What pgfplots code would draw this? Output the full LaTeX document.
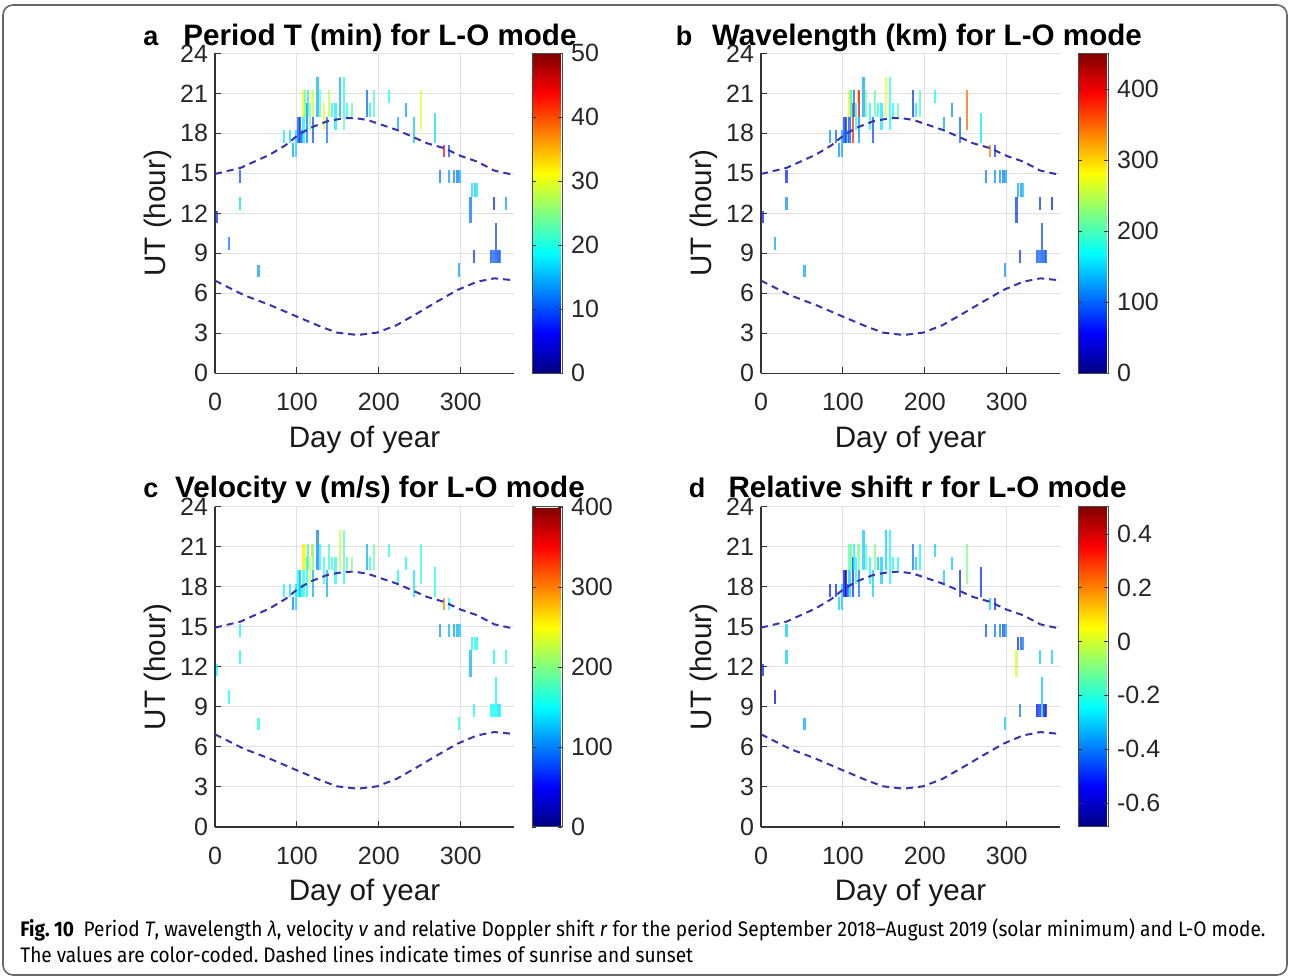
\documentclass[border=0pt]{standalone}
\usepackage{graphicx}
\usepackage{pgfplots}
\pgfplotsset{compat=1.18}
\usepackage{pgfplotstable}
\usepackage{fontspec}
\setmainfont{Liberation Sans}
\newfontfamily\capfont{Fira Sans}
\definecolor{sunblue}{RGB}{55,50,175}
\newsavebox\capone
\newsavebox\captwo
\newdimen\capw
\frenchspacing

% day, start hour, length (h), then value in panels a, b, c, d
\pgfplotstableread{
x y dy a b c d
2 11.3 0.9 8 70 150 -0.50
31 14.25 1 10 70 150 -0.30
31 12.25 1 17 120 150 -0.30
17.5 9.25 1 12 130 150 -0.55
53 7.25 0.9 14 130 160 -0.35
84 17.25 1 18 120 150 -0.50
92 17.25 1 17 100 140 -0.50
95 16.25 1 14 120 100 -0.30
99 16.25 2 17 130 140 -0.30
102 17.25 2 10 80 150 -0.55
104 17.25 2 9 80 120 -0.60
106 17.25 1 10 150 150 -0.50
108 17.25 2 18 90 160 -0.30
108 19.25 2 30 290 260 -0.15
110 19.25 2 24 170 250 -0.10
112 17.25 3 12 380 150 -0.50
114 19.25 2 18 100 160 -0.25
116 18.25 2 25 170 240 -0.25
118 20.25 1 31 300 270 -0.10
120 17.25 2 10 120 120 -0.40
120 19.25 2 29 400 200 -0.10
125 19.25 3 15 130 100 -0.30
128 19.25 2 23 220 160 -0.15
133 18.25 2 30 170 170 -0.25
137 17.25 2 12 90 120 -0.30
139 19.25 2 28 210 170 -0.10
143 19.25 1 20 180 170 -0.30
147 18.25 2 18 160 160 -0.30
153 19.25 3 15 270 230 -0.30
157 18.25 1 23 170 160 -0.25
157 19.25 3 20 180 180 -0.25
161 19.25 1 20 170 180 -0.25
167 19.25 1 23 210 200 -0.25
186 19.25 2 11 80 120 -0.40
189 19.25 1 18 160 160 -0.30
194 19.25 2 22 200 190 -0.25
212 20.25 1 19 170 160 -0.30
223 18.25 1 15 130 150 -0.30
233 19.25 1 14 120 150 -0.30
243 17.25 2 16 100 140 -0.50
251 18.25 3 30 350 170 -0.10
269 17.25 2.25 17 160 160 -0.50
280 16.25 0.9 44 340 300 -0.30
286 16.25 0.9 10 80 150 -0.50
275 14.25 1 12 110 110 -0.45
286 14.25 1 14 120 120 -0.40
292 14.25 1 13 120 110 -0.40
296 14.25 1 12 110 120 -0.45
299 14.25 1 15 130 130 -0.35
314 13.25 1 17 130 150 -0.50
317 13.25 1 16 120 160 -0.45
320 13.25 1 18 140 150 -0.40
312 11.25 2 12 80 120 0.00
341 12.25 1 8 80 150 -0.30
355 12.25 1 14 70 160 -0.30
343 8.25 3 10 90 150 -0.30
337 8.25 1 10 90 150 -0.55
340 8.25 1 11 100 150 -0.50
346 8.25 1 9 90 140 -0.60
348 8.25 1 12 100 150 -0.50
316 8.25 1 9 80 150 -0.40
298 7.25 1 14 120 160 -0.30
}\segs

\pgfplotstableread{
x y
0 14.95
31 15.4
67 16.4
86 17.1
100 17.8
116 18.4
137 18.9
157 19.13
170 19.15
186 19.0
198 18.75
222 18.25
239 17.8
259 17.25
280 16.88
300 16.3
320 15.88
341 15.2
361 14.93
365 14.92
}\sunset

\pgfplotstableread{
x y
0 6.95
35 5.87
67 5.12
100 4.25
129 3.5
149 3.05
174 2.87
198 3.05
222 3.62
247 4.5
271 5.37
296 6.25
320 6.87
341 7.12
361 7.0
365 6.98
}\sunrise

\pgfplotsset{
  panel/.style={
    scale only axis, width=149.5pt, height=160pt,
    xmin=0, xmax=365, ymin=0, ymax=24,
    xtick={0,100,200,300}, ytick={0,3,...,24},
    xmajorgrids, ymajorgrids, grid style={black!12, line width=0.5pt},
    axis x line*=bottom, axis y line*=left,
    axis line style={-, black!80, line width=0.6pt},
    tick align=inside, major tick length=3pt,
    tick style={black!80, line width=0.5pt},
    /pgf/number format/assume math mode=true,
    tick label style={font=\fontsize{12.5}{14}\selectfont, black!85},
    xticklabel style={yshift=-6.5pt},
    xlabel={Day of year}, ylabel={UT (hour)},
    label style={font=\fontsize{14.8}{17}\selectfont, black!90},
    xlabel style={at={(axis description cs:0.5,0)}, anchor=base, yshift=-37pt},
    ylabel style={at={([xshift=-25pt]axis description cs:0,0.5)}, anchor=base},
    colormap/jet, colorbar,
    colorbar style={width=15pt, at={(parent axis.north east)},
      anchor=north west, xshift=0.5pt,
      /pgf/number format/assume math mode=true,
      yticklabel style={font=\fontsize{12.5}{14}\selectfont, black!85, xshift=1pt},
      major tick length=2pt, tick style={black!80},
      axis line style={black!70, line width=0.5pt}},
  },
  seg/.style={quiver={u=0, v=\thisrow{dy}, colored}, line width=1.1pt,
    opacity=0.72, point meta=explicit},
  sun/.style={color=sunblue, line width=1pt, dash pattern=on 3.5pt off 2.5pt},
}

\begin{document}%
\sbox\capone{\capfont\fontsize{10.5}{12}\selectfont\textbf{Fig. 10}\hspace{0.5em}Period \textit{T}, wavelength \textit{λ}, velocity \textit{v} and relative Doppler shift \textit{r} for the period September 2018–August 2019 (solar minimum) and L-O mode.}%
\sbox\captwo{\capfont\fontsize{10.5}{12}\selectfont The values are color-coded. Dashed lines indicate times of sunrise and sunset}%
\capw=\wd\capone%
\pgfmathsetmacro\capsc{622.5/\capw}%
\begin{tikzpicture}
\useasboundingbox (0,0) rectangle (645pt,489pt);
\draw[black!60, line width=0.8pt, rounded corners=5pt] (1.5pt,1.5pt) rectangle (643.5pt,486.5pt);

\node[anchor=base west, inner sep=0pt] at (10pt,20.5pt) {\scalebox{\capsc}[1]{\usebox\capone}};
\node[anchor=base west, inner sep=0pt] at (10pt,7.5pt) {\scalebox{\capsc}[1]{\usebox\captwo}};

% a
\begin{axis}[panel, at={(107.5pt,302.35pt)}, anchor=south west,
  point meta min=0, point meta max=50, colorbar style={ytick={0,10,...,50}}]
\addplot[seg] table[x=x, y=y, meta=a] {\segs};
\addplot[sun] table {\sunset};
\addplot[sun] table {\sunrise};
\end{axis}
% b
\begin{axis}[panel, at={(380.5pt,302.35pt)}, anchor=south west,
  point meta min=0, point meta max=450, colorbar style={ytick={0,100,...,400}}]
\addplot[seg] table[x=x, y=y, meta=b] {\segs};
\addplot[sun] table {\sunset};
\addplot[sun] table {\sunrise};
\end{axis}
% c
\begin{axis}[panel, at={(107.5pt,75.5pt)}, anchor=south west,
  point meta min=0, point meta max=400, colorbar style={ytick={0,100,...,400}}]
\addplot[seg] table[x=x, y=y, meta=c] {\segs};
\addplot[sun] table {\sunset};
\addplot[sun] table {\sunrise};
\end{axis}
% d
\begin{axis}[panel, at={(380.5pt,75.5pt)}, anchor=south west,
  point meta min=-0.69, point meta max=0.5,
  colorbar style={ytick={-0.6,-0.4,-0.2,0,0.2,0.4}}]
\addplot[seg] table[x=x, y=y, meta=d] {\segs};
\addplot[sun] table {\sunset};
\addplot[sun] table {\sunrise};
\end{axis}

\tikzset{ttl/.style={font=\fontsize{14.8}{17}\selectfont\bfseries, anchor=base, inner sep=0pt},
  lbl/.style={font=\fontsize{13.5}{16}\selectfont\bfseries, anchor=base, inner sep=0pt}}
\node[lbl] at (75.5pt,466pt) {a};
\node[ttl] at (190pt,466pt) {Period T (min) for L-O mode};
\node[lbl] at (342pt,466pt) {b};
\node[ttl] at (463.5pt,466pt) {Wavelength (km) for L-O mode};
\node[lbl] at (75.5pt,240pt) {c};
\node[ttl] at (190pt,240pt) {Velocity v (m/s) for L-O mode};
\node[lbl] at (348.5pt,240pt) {d};
\node[ttl] at (463.75pt,240pt) {Relative shift r for L-O mode};
\end{tikzpicture}
\end{document}
